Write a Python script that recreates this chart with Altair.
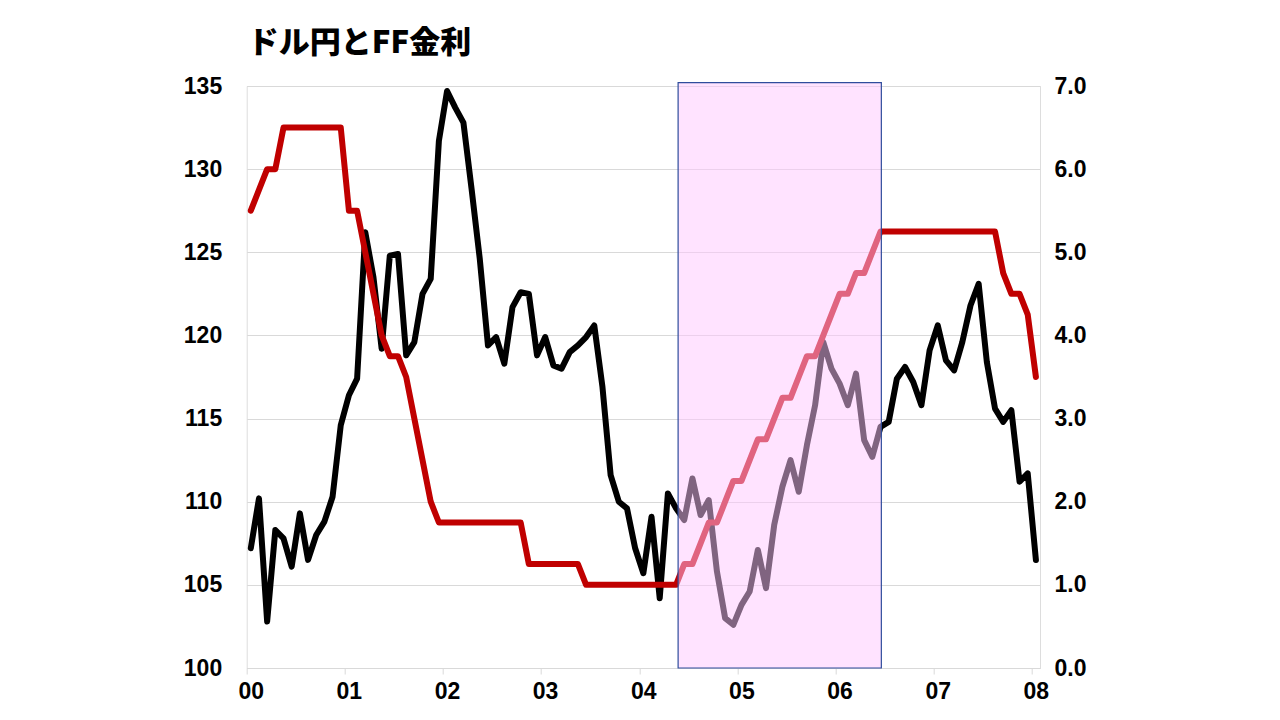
import altair as alt
import pandas as pd

# Month-end USD/JPY, Jan 2000 .. Jan 2008
usdjpy = [
    107.2, 110.2, 102.8, 108.3, 107.8, 106.1, 109.3, 106.5, 108.0, 108.8, 110.3, 114.6,
    116.4, 117.4, 126.2, 123.5, 119.2, 124.8, 124.9, 118.8, 119.6, 122.5, 123.4, 131.7,
    134.7, 133.7, 132.8, 128.8, 124.6, 119.4, 119.9, 118.3, 121.7, 122.6, 122.5, 118.8,
    119.9, 118.2, 118.0, 119.0, 119.4, 119.9, 120.6, 116.9, 111.6, 110.0, 109.6, 107.2,
    105.7, 109.1, 104.2, 110.5, 109.6, 108.9, 111.4, 109.2, 110.1, 105.8, 103.0, 102.6,
    103.8, 104.6, 107.1, 104.8, 108.6, 110.9, 112.5, 110.6, 113.4, 115.8, 119.6, 118.0,
    117.1, 115.8, 117.7, 113.7, 112.7, 114.5, 114.8, 117.4, 118.1, 117.2, 115.8, 119.1,
    120.6, 118.5, 117.9, 119.6, 121.8, 123.1, 118.4, 115.6, 114.8, 115.5, 111.2, 111.7,
    106.5,
]

# FF target rate (%), same months
ffrate = [
    5.50, 5.75, 6.00, 6.00, 6.50, 6.50, 6.50, 6.50, 6.50, 6.50, 6.50, 6.50,
    5.50, 5.50, 5.00, 4.50, 4.00, 3.75, 3.75, 3.50, 3.00, 2.50, 2.00, 1.75,
    1.75, 1.75, 1.75, 1.75, 1.75, 1.75, 1.75, 1.75, 1.75, 1.75, 1.25, 1.25,
    1.25, 1.25, 1.25, 1.25, 1.25, 1.00, 1.00, 1.00, 1.00, 1.00, 1.00, 1.00,
    1.00, 1.00, 1.00, 1.00, 1.00, 1.25, 1.25, 1.50, 1.75, 1.75, 2.00, 2.25,
    2.25, 2.50, 2.75, 2.75, 3.00, 3.25, 3.25, 3.50, 3.75, 3.75, 4.00, 4.25,
    4.50, 4.50, 4.75, 4.75, 5.00, 5.25, 5.25, 5.25, 5.25, 5.25, 5.25, 5.25,
    5.25, 5.25, 5.25, 5.25, 5.25, 5.25, 5.25, 5.25, 4.75, 4.50, 4.50, 4.25,
    3.50,
]

year_ticks = [2000, 2001, 2002, 2003, 2004, 2005, 2006, 2007, 2008]
yen_ticks = [100, 105, 110, 115, 120, 125, 130, 135]
ff_ticks = [0, 1, 2, 3, 4, 5, 6, 7]

# Highlighted period: May 2004 .. Jun 2006
shade_start = 2000 + 52.75 / 12
shade_end = 2000 + 77.6 / 12
shade_low = 100
shade_high = 135.2

n = len(usdjpy)
t = [2000 + (i + 0.5) / 12 for i in range(n)]
df = pd.DataFrame({"t": t, "usdjpy": usdjpy, "ff": ffrate})
shade = pd.DataFrame({"x1": [shade_start], "x2": [shade_end],
                      "y1": [shade_low], "y2": [shade_high]})

FONT = "Liberation Sans"
GRID = "#D9D9D9"
LABEL_SIZE = 23

xscale = alt.Scale(domain=[2000, 2000 + n / 12], nice=False, zero=False)
xenc = alt.X(
    "t:Q",
    scale=xscale,
    axis=alt.Axis(
        values=year_ticks,
        labelExpr="substring(toString(datum.value), 2, 4)",
        grid=False, domainColor=GRID, tickColor=GRID, tickSize=6,
        labelFont=FONT, labelFontSize=LABEL_SIZE, labelFontWeight="bold",
        labelColor="black", labelPadding=6, labelOffset=4, labelFlush=False,
        title=None,
    ),
)

yen_line = alt.Chart(df).mark_line(
    color="black", strokeWidth=6, strokeJoin="round", strokeCap="round"
).encode(
    x=xenc,
    y=alt.Y(
        "usdjpy:Q",
        scale=alt.Scale(domain=[100, 135], nice=False, zero=False),
        axis=alt.Axis(
            values=yen_ticks, format="d", orient="left", grid=True,
            gridColor=GRID, domain=False, ticks=False, labelPadding=25,
            labelFont=FONT, labelFontSize=LABEL_SIZE, labelFontWeight="bold",
            labelColor="black", title=None,
        ),
    ),
)

ff_line = alt.Chart(df).mark_line(
    color="#C00000", strokeWidth=6, strokeJoin="round", strokeCap="round"
).encode(
    x=xenc,
    y=alt.Y(
        "ff:Q",
        scale=alt.Scale(domain=[0, 7], nice=False, zero=True),
        axis=alt.Axis(
            values=ff_ticks, format=".1f", orient="right", grid=False,
            domain=False, ticks=False, labelPadding=14,
            labelFont=FONT, labelFontSize=LABEL_SIZE, labelFontWeight="bold",
            labelColor="black", title=None,
        ),
    ),
)

box = alt.Chart(shade).mark_rect(
    fill="#FFC8FF", fillOpacity=0.5, stroke="#2E4C9C", strokeWidth=1.2,
    strokeOpacity=1,
).encode(
    x=alt.X("x1:Q", scale=xscale),
    x2="x2:Q",
    y=alt.Y("y1:Q", scale=alt.Scale(domain=[100, 135], nice=False, zero=False), axis=None),
    y2="y2:Q",
)

chart = alt.layer(yen_line, ff_line, box).resolve_scale(
    y="independent"
).properties(
    width=793.3,
    height=582,
    title=alt.TitleParams(
        "ドル円とFF金利", anchor="start", frame="group",
        font="Noto Sans CJK JP", fontSize=31, fontWeight=900,
        color="black", offset=24, baseline="bottom", dx=1, dy=40,
    ),
    padding={"left": 238.7, "top": 78, "right": 150, "bottom": 40},
    autosize=alt.AutoSizeParams(type="none"),
).configure_view(stroke=None).configure(background="white")

chart.save("out.html", embed_options={"renderer": "svg", "actions": False})
